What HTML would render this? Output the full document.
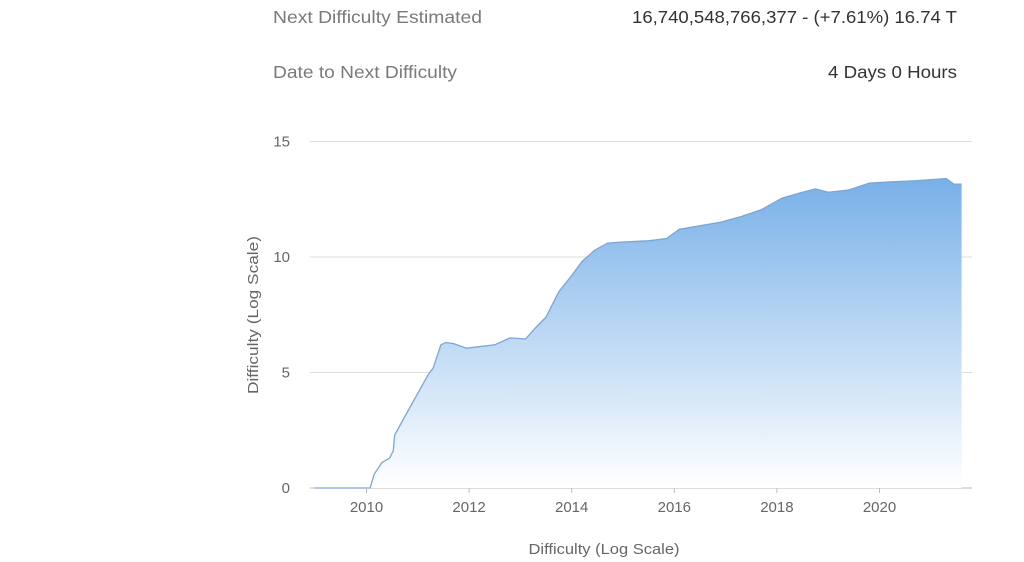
<!DOCTYPE html>
<html><head><meta charset="utf-8"><style>
html,body{margin:0;padding:0;background:#fff;}
svg{display:block;font-family:"Liberation Sans",sans-serif;}
</style></head><body>
<svg id="chart" width="1024" height="562" viewBox="0 0 1024 562">
<defs><linearGradient id="fillg" x1="0" y1="0" x2="0" y2="1">
<stop offset="0" stop-color="#78b0e8"/><stop offset="1" stop-color="#ffffff"/></linearGradient></defs>
<text x="273" y="23" font-size="17.5" fill="#7a7a7a" textLength="209" lengthAdjust="spacingAndGlyphs">Next Difficulty Estimated</text>
<text x="957" y="23" font-size="17.5" fill="#333" text-anchor="end" textLength="325" lengthAdjust="spacingAndGlyphs">16,740,548,766,377 - (+7.61%) 16.74 T</text>
<text x="273" y="78" font-size="17.5" fill="#7a7a7a" textLength="184" lengthAdjust="spacingAndGlyphs">Date to Next Difficulty</text>
<text x="957" y="78" font-size="17.5" fill="#333" text-anchor="end" textLength="129" lengthAdjust="spacingAndGlyphs">4 Days 0 Hours</text>
<g id="grid"></g>
<path id="area" fill="url(#fillg)"/>
<path id="line" fill="none" stroke="#7aa6d6" stroke-width="1.3"/>
<g id="axes"></g>
<text x="0" y="0" transform="translate(258,315) rotate(-90)" font-size="15" fill="#666" text-anchor="middle" textLength="158" lengthAdjust="spacingAndGlyphs">Difficulty (Log Scale)</text>
<text x="604" y="554" font-size="15" fill="#666" text-anchor="middle" textLength="151" lengthAdjust="spacingAndGlyphs">Difficulty (Log Scale)</text>
</svg>
<script>
const years=[2009.0,2010.07,2010.15,2010.3,2010.45,2010.52,2010.55,2010.7,2010.85,2011.0,2011.2,2011.3,2011.45,2011.55,2011.7,2011.95,2012.5,2012.8,2013.1,2013.3,2013.5,2013.75,2014.0,2014.2,2014.45,2014.7,2015.0,2015.5,2015.85,2016.1,2016.5,2016.9,2017.3,2017.7,2018.1,2018.5,2018.75,2019.0,2019.4,2019.8,2020.2,2020.7,2021.3,2021.45,2021.6];
const values=[0,0,0.6,1.1,1.3,1.6,2.3,2.9,3.5,4.1,4.9,5.2,6.2,6.3,6.25,6.05,6.2,6.5,6.45,6.95,7.4,8.5,9.2,9.8,10.3,10.6,10.65,10.7,10.8,11.2,11.35,11.5,11.75,12.05,12.55,12.8,12.95,12.8,12.9,13.2,13.25,13.3,13.4,13.15,13.15];
const yTicks=[0,5,10,15];
const xTicks=[2010,2012,2014,2016,2018,2020];
const X=y=>366.5+(y-2010)*51.3;
const Y=v=>488-v*23.1;
const NS="http://www.w3.org/2000/svg";
const grid=document.getElementById('grid'),axes=document.getElementById('axes');
yTicks.forEach(t=>{
 const l=document.createElementNS(NS,'line');
 l.setAttribute('x1',310);l.setAttribute('x2',972);l.setAttribute('y1',Y(t));l.setAttribute('y2',Y(t));
 l.setAttribute('stroke',t===0?'#bbb':'#ddd');l.setAttribute('stroke-width',1);
 
 
 grid.appendChild(l);
 const tx=document.createElementNS(NS,'text');
 tx.setAttribute('x',290);tx.setAttribute('y',Y(t)+5);tx.setAttribute('text-anchor','end');
 tx.setAttribute('font-size',15);tx.setAttribute('fill','#666');tx.textContent=t;
 
 
 axes.appendChild(tx);
});
xTicks.forEach(t=>{
 const l=document.createElementNS(NS,'line');
 l.setAttribute('x1',X(t));l.setAttribute('x2',X(t));l.setAttribute('y1',488);l.setAttribute('y2',493);
 l.setAttribute('stroke','#bbb');
 
 
 axes.appendChild(l);
 const tx=document.createElementNS(NS,'text');
 tx.setAttribute('x',X(t));tx.setAttribute('y',512);tx.setAttribute('text-anchor','middle');
 tx.setAttribute('font-size',15);tx.setAttribute('fill','#666');tx.textContent=t;
 
 
 axes.appendChild(tx);
});
let d='';
years.forEach((y,i)=>{d+=(i?'L':'M')+X(y).toFixed(1)+','+Y(values[i]).toFixed(1);});
document.getElementById('line').setAttribute('d',d);
document.getElementById('area').setAttribute('d',d+'L'+X(years[years.length-1]).toFixed(1)+','+Y(0)+'L'+X(years[0]).toFixed(1)+','+Y(0)+'Z');
</script>
</body></html>
